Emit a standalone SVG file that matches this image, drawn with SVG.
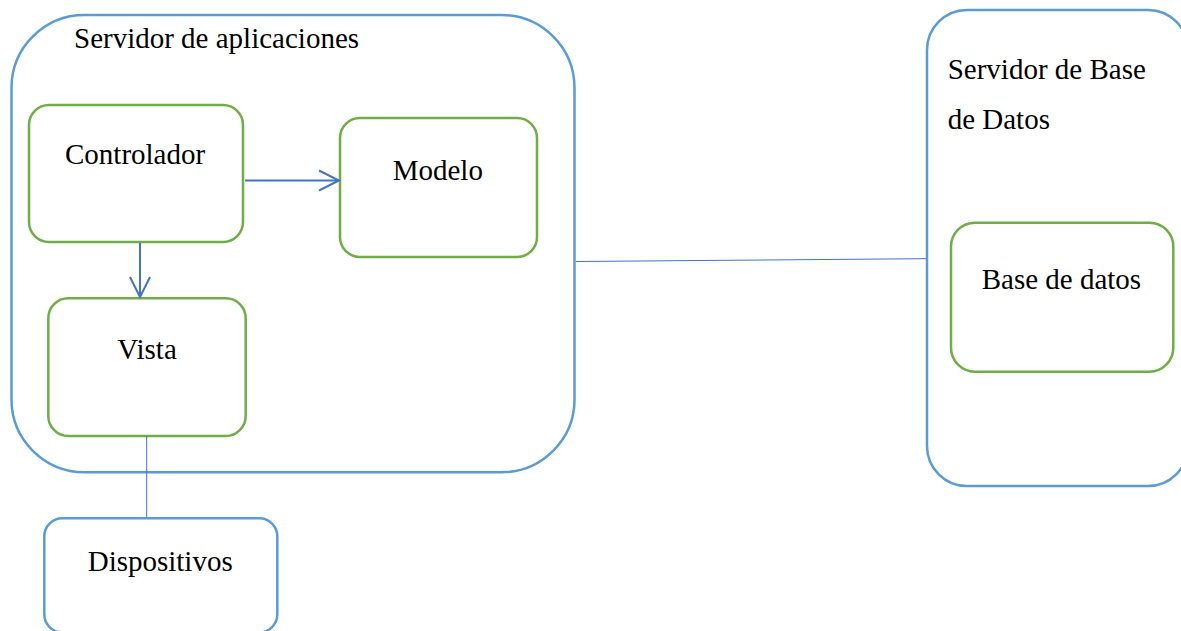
<svg xmlns="http://www.w3.org/2000/svg" width="1181" height="631" viewBox="0 0 1181 631">
  <style>
    .container { fill: #ffffff; stroke: #5B9BD5; stroke-width: 2.5; }
    .component { fill: #ffffff; stroke: #70AD47; stroke-width: 2.5; }
    .label { font-family: "Liberation Serif", "Times New Roman", serif; font-size: 29px; fill: #000000; }
    .flow { fill: none; stroke: #4472C4; stroke-width: 2; }
    .link { fill: none; stroke: #4472C4; stroke-width: 1; }
  </style>
  <defs>
    <marker id="open-arrow" markerUnits="userSpaceOnUse" markerWidth="24" markerHeight="24" viewBox="0 0 24 24" refX="21" refY="12" orient="auto">
      <path d="M1,2 L21,12 L1,22" fill="none" stroke="#4472C4" stroke-width="2"/>
    </marker>
  </defs>

  <rect width="1181" height="631" fill="#ffffff"/>

  <!-- application server container -->
  <g id="servidor-aplicaciones">
    <rect class="container" x="11.5" y="15" width="563" height="457.3" rx="73" ry="73"/>
    <text class="label" x="74" y="47.5">Servidor de aplicaciones</text>
  </g>

  <!-- database server container (runs past the right edge) -->
  <g id="servidor-base-datos">
    <rect class="container" x="927" y="10" width="261" height="476" rx="40" ry="40"/>
    <text class="label" x="947.7" y="79">Servidor de Base</text>
    <text class="label" x="947.7" y="129.3">de Datos</text>
  </g>

  <g id="controlador">
    <rect class="component" x="29" y="105" width="214" height="137" rx="20" ry="20"/>
    <text class="label" x="65" y="164">Controlador</text>
  </g>

  <g id="modelo">
    <rect class="component" x="340" y="118" width="197" height="139" rx="20" ry="20"/>
    <text class="label" x="392.7" y="180">Modelo</text>
  </g>

  <g id="vista">
    <rect class="component" x="48.3" y="298.3" width="197.4" height="137.7" rx="20" ry="20"/>
    <text class="label" x="117.3" y="359.3">Vista</text>
  </g>

  <g id="base-datos">
    <rect class="component" x="951" y="222.7" width="222.3" height="149" rx="24" ry="24"/>
    <text class="label" x="981.7" y="289.3">Base de datos</text>
  </g>

  <g id="dispositivos">
    <rect class="container" x="44.3" y="518.3" width="233" height="114" rx="18" ry="18"/>
    <text class="label" x="87.7" y="570.7">Dispositivos</text>
  </g>

  <!-- connectors -->
  <g id="connectors">
    <line class="flow" x1="245" y1="180.5" x2="339" y2="180.5" marker-end="url(#open-arrow)"/>
    <line class="flow" x1="140" y1="243" x2="140" y2="297" marker-end="url(#open-arrow)"/>
    <line class="link" x1="146.7" y1="436" x2="146.7" y2="517"/>
    <line class="link" x1="576" y1="261.5" x2="926" y2="258.7"/>
  </g>
</svg>
